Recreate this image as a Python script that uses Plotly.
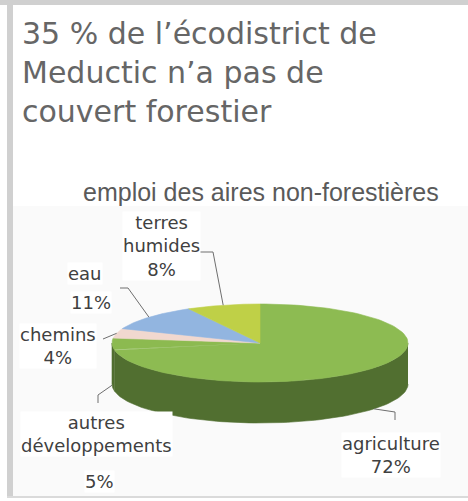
import numpy as np
import plotly.graph_objects as go

# ---- data -------------------------------------------------------------
title_lines = ["35 % de l’écodistrict de", "Meductic n’a pas de", "couvert forestier"]
subtitle = "emploi des aires non-forestières"

categories = ["agriculture", "autres\ndéveloppements", "chemins", "eau", "terres\nhumides"]
shares = [72, 5, 4, 11, 8]          # % of the non-forested area

top_colors = ["#8dbb52", "#8cba50", "#f1d8cf", "#92b5e0", "#bfd047"]
side_colors = ["#516f30", "#506e2f", "#b8a39c", "#6d88ab", "#909d35"]

# ---- pie geometry (pixel space) ----------------------------------------
W, H = 468, 501
CX, CY, RX, RY, DEPTH = 260, 343, 148, 39, 41


def ell(theta_deg, dy=0.0):
    t = np.radians(theta_deg)
    return CX + RX * np.sin(t), CY - RY * np.cos(t) + dy


fig = go.Figure()

# frame and chart-area background
shapes = [
    dict(type="rect", x0=0, x1=W, y0=0, y1=5, fillcolor="#d0d0d0", line_width=0, layer="below"),
    dict(type="rect", x0=7, x1=13, y0=0, y1=498, fillcolor="#d0d0d0", line_width=0, layer="below"),
    dict(type="rect", x0=7, x1=W, y0=496, y1=498, fillcolor="#dadada", line_width=0, layer="below"),
    dict(type="rect", x0=13, x1=W, y0=206, y1=496, fillcolor="#fafafa", line_width=0, layer="below"),
]

bounds = np.concatenate([[0], np.cumsum(shares)]) / sum(shares) * 360.0

# front side walls (visible half: 90..270 degrees)
for i in range(len(shares)):
    a0, a1 = max(bounds[i], 90.0), min(bounds[i + 1], 270.0)
    if a1 <= a0:
        continue
    th = np.linspace(a0, a1, 80)
    xt, yt = ell(th)
    xb, yb = ell(th[::-1], DEPTH)
    fig.add_trace(go.Scatter(
        x=np.concatenate([xt, xb]), y=np.concatenate([yt, yb]),
        fill="toself", fillcolor=side_colors[i], mode="lines",
        line=dict(color=side_colors[i], width=0.6), hoverinfo="skip", showlegend=False))

# top faces
for i in range(len(shares)):
    th = np.linspace(bounds[i], bounds[i + 1], 120)
    xs, ys = ell(th)
    fig.add_trace(go.Scatter(
        x=np.concatenate([[CX], xs, [CX]]), y=np.concatenate([[CY], ys, [CY]]),
        fill="toself", fillcolor=top_colors[i], mode="lines",
        line=dict(color=top_colors[i], width=0.6), hoverinfo="skip", showlegend=False))

# ---- labels and leader lines -----------------------------------------
# text blocks per category: (x, y, content) where content is "name", "pct" or "both"
label_layout = {
    "agriculture": dict(blocks=[(391, 455, "both")], elbow=[(395, 420), (395, 412)]),
    "autres\ndéveloppements": dict(blocks=[(96, 434, "name"), (99, 481, "pct")], elbow=[(98, 403), (98, 395)]),
    "chemins": dict(blocks=[(58, 346, "both")], elbow=[(103, 339)]),
    "eau": dict(blocks=[(85, 273, "name"), (91, 302, "pct")], elbow=[(120, 288), (128, 288)]),
    "terres\nhumides": dict(blocks=[(161, 246, "both")], elbow=[(200, 252), (213, 252)]),
}

annotations = []
label_font = dict(family="DejaVu Sans, sans-serif", size=18, color="#404040")
for i, cat in enumerate(categories):
    lay = label_layout[cat]
    mid = (bounds[i] + bounds[i + 1]) / 2
    front = 90 < mid < 270
    ex, ey = ell(mid, DEPTH if front else 0)
    px = [p[0] for p in lay["elbow"]] + [ex]
    py = [p[1] for p in lay["elbow"]] + [ey]
    fig.add_trace(go.Scatter(x=px, y=py, mode="lines", line=dict(color="#6e6e6e", width=1),
                             hoverinfo="skip", showlegend=False))
    name_txt = cat.replace("\n", "<br>")
    pct_txt = f"{shares[i]}%"
    for bx, by, kind in lay["blocks"]:
        txt = {"name": name_txt, "pct": pct_txt, "both": name_txt + "<br>" + pct_txt}[kind]
        annotations.append(dict(x=bx, y=by, text=txt, showarrow=False, font=label_font,
                                xanchor="center", yanchor="middle", align="center",
                                bgcolor="white", borderpad=0))

# title block
annotations.append(dict(x=20, y=72, text="<br>".join(title_lines), showarrow=False,
                        font=dict(family="DejaVu Sans, sans-serif", size=30, color="#666666"),
                        xanchor="left", yanchor="middle", align="left"))

annotations.append(dict(x=261, y=192, text=subtitle, showarrow=False,
                        font=dict(family="Liberation Sans, Arial, sans-serif", size=25, color="#5a5a5a"),
                        xanchor="center", yanchor="middle"))

fig.update_layout(
    width=W, height=H, autosize=False,
    margin=dict(l=0, r=0, t=0, b=0),
    paper_bgcolor="white", plot_bgcolor="white",
    xaxis=dict(range=[0, W], visible=False, fixedrange=True),
    yaxis=dict(range=[H, 0], visible=False, fixedrange=True),
    shapes=shapes, annotations=annotations,
)

fig.write_html("out.html", config={"displayModeBar": False})
